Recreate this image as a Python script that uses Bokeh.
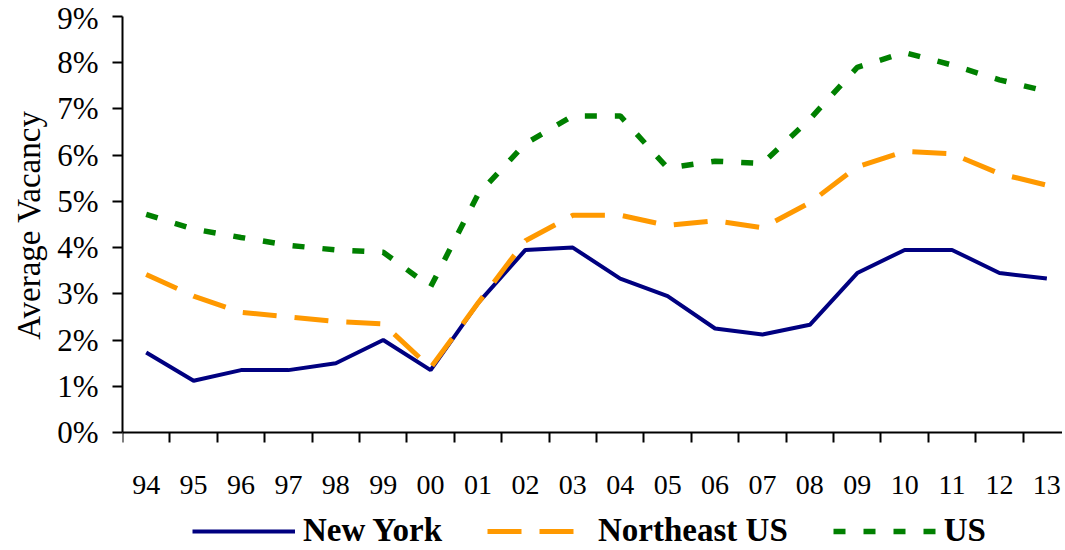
from bokeh.plotting import figure
from bokeh.models import FixedTicker, Legend, LegendItem, Range1d, ColumnDataSource, Title
from bokeh.embed import file_html
from bokeh.resources import INLINE

years = ["94", "95", "96", "97", "98", "99", "00", "01", "02", "03",
         "04", "05", "06", "07", "08", "09", "10", "11", "12", "13"]
new_york = [1.73, 1.12, 1.35, 1.35, 1.5, 2.0, 1.35, 2.8, 3.95, 4.0,
            3.33, 2.95, 2.25, 2.12, 2.33, 3.45, 3.95, 3.95, 3.45, 3.33]
northeast = [3.42, 2.95, 2.6, 2.5, 2.4, 2.35, 1.4, 2.8, 4.15, 4.7,
             4.7, 4.48, 4.58, 4.43, 4.97, 5.75, 6.08, 6.03, 5.6, 5.35]
us = [4.72, 4.4, 4.22, 4.05, 3.95, 3.9, 3.15, 5.15, 6.25, 6.85,
      6.85, 5.72, 5.87, 5.82, 6.78, 7.9, 8.22, 7.95, 7.63, 7.38]
y_ticks = [0, 1, 2, 3, 4, 5, 6, 7, 8, 9]
y_tick_labels = ["0%", "1%", "2%", "3%", "4%", "5%", "6%", "7%", "8%", "9%"]
y_title = "Average Vacancy"

xs = list(range(len(years)))
src = ColumnDataSource(dict(x=xs, ny=new_york, ne=northeast, us=us))

W, H = 1062, 549
p = figure(width=W, height=H, output_backend="svg", toolbar_location=None,
           x_range=Range1d(-0.5, 19.33), y_range=Range1d(-2.531, 9),
           min_border_left=122, min_border_right=0, min_border_top=16,
           min_border_bottom=0)
p.outline_line_color = None
p.grid.visible = False
p.background_fill_color = "white"
p.border_fill_color = "white"

FONT = "Liberation Serif"

r_ny = p.line("x", "ny", source=src, line_color="#000080", line_width=4)
r_ne = p.line("x", "ne", source=src, line_color="#FF9900", line_width=5,
              line_dash="34 18")
r_us = p.line("x", "us", source=src, line_color="#008000", line_width=5.5,
              line_dash="12 18")

# x axis, drawn at y = 0
xa = p.xaxis[0]
xa.fixed_location = 0
xa.ticker = FixedTicker(ticks=xs, minor_ticks=[i - 0.5 for i in range(len(years) + 1)])
xa.major_label_overrides = {i: lab for i, lab in enumerate(years)}
xa.major_tick_out = 0
xa.major_tick_in = 0
xa.minor_tick_out = 10
xa.minor_tick_in = 0
xa.minor_tick_line_color = "black"
xa.minor_tick_line_width = 2
xa.axis_line_width = 2
xa.axis_line_color = "black"
xa.major_label_text_font = FONT
xa.major_label_text_font_size = "28px"
xa.major_label_text_color = "black"
xa.major_label_standoff = 33

# y axis
ya = p.yaxis[0]
ya.bounds = (0, 9)
ya.ticker = FixedTicker(ticks=y_ticks, minor_ticks=[])
ya.major_label_overrides = {t: l for t, l in zip(y_ticks, y_tick_labels)}
ya.major_tick_out = 10
ya.major_tick_in = 0
ya.major_tick_line_width = 2
ya.axis_line_width = 2
ya.axis_line_color = "black"
ya.major_label_text_font = FONT
ya.major_label_text_font_size = "31px"
ya.major_label_text_color = "black"
ya.major_label_standoff = 14

p.add_layout(Title(text=y_title, align="right", offset=94,
                   text_font=FONT, text_font_size="33px",
                   text_font_style="normal", text_color="black",
                   standoff=16), "left")

legend = Legend(items=[LegendItem(label="New York", renderers=[r_ny]),
                       LegendItem(label="Northeast US", renderers=[r_ne]),
                       LegendItem(label="US", renderers=[r_us])],
                orientation="horizontal", location=(70, 0),
                glyph_width=103, glyph_height=24, label_height=24,
                label_standoff=8, spacing=45,
                padding=0, margin=0, border_line_alpha=0, background_fill_alpha=0,
                label_text_font=FONT, label_text_font_size="33px",
                label_text_font_style="bold", label_text_color="black")
p.add_layout(legend, "center")

open("out.html", "w").write(file_html(p, INLINE))
